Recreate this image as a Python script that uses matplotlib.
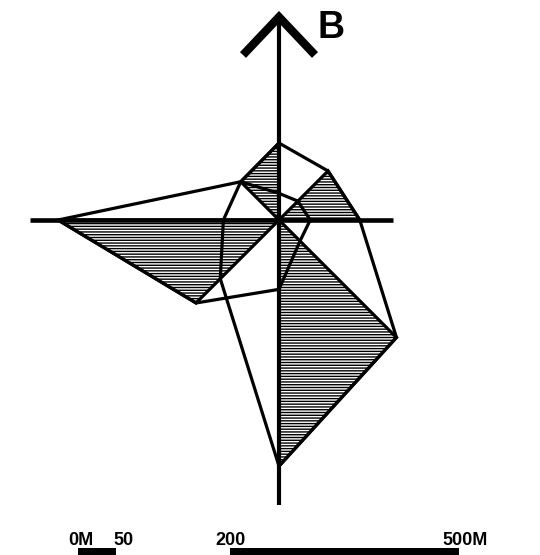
import numpy as np
import matplotlib.pyplot as plt

plt.rcParams['hatch.linewidth'] = 1.0
plt.rcParams['font.family'] = ['Liberation Sans', 'DejaVu Sans']

# compass directions and the two distance series (metres)
directions = ['N', 'NE', 'E', 'SE', 'S', 'SW', 'W', 'NW']
bearings = [0, 45, 90, 135, 180, 225, 270, 315]
series_a = [101, 91, 106, 218, 323, 109, 73, 71]
series_b = [35, 35, 41, 39, 91, 154, 290, 71]
hatched_pairs = [('NW', 'N'), ('NE', 'E'), ('SE', 'S'), ('SW', 'W')]

# scale bar
scale_ticks = [0, 50, 200, 500]
scale_labels = ['0M', '50', '200', '500M']
scale_segments = [(0, 50), (200, 500)]

north_label = 'B'

PX = 0.762  # pixels per metre


def to_xy(bearing, r):
    t = np.deg2rad(bearing)
    return r * np.sin(t), r * np.cos(t)


def m(px):
    return px / PX


fig = plt.figure(figsize=(5.4, 5.55), dpi=100)
ax = fig.add_axes([0, 0, 1, 1])
ax.set_xlim(m(-279), m(261))
ax.set_ylim(m(-335), m(220))
ax.axis('off')

# hatched sectors (outer envelope of both series)
envelope = dict(zip(directions, np.maximum(series_a, series_b)))
bear = dict(zip(directions, bearings))
for d1, d2 in hatched_pairs:
    x1, y1 = to_xy(bear[d1], envelope[d1])
    x2, y2 = to_xy(bear[d2], envelope[d2])
    ax.fill([0, x1, x2], [0, y1, y2], facecolor='none', edgecolor='black',
            hatch='------', lw=2.3, joinstyle='miter')

# the two polygons
for series in (series_a, series_b):
    xs, ys = to_xy(np.array(bearings + bearings[:1]), np.array(series + series[:1]))
    ax.plot(xs, ys, color='black', lw=2.3, solid_joinstyle='miter')

# axes cross
ax.plot([m(-249), m(114)], [0, 0], color='black', lw=3.3, solid_capstyle='butt')
tip = m(203)
ax.plot([0, 0], [m(-285), tip], color='black', lw=3.0, solid_capstyle='butt')
ax.plot([m(-36), 0, m(36)], [tip - m(38), tip, tip - m(38)], color='black',
        lw=6.0, solid_capstyle='butt', solid_joinstyle='miter')
ax.text(m(52), m(192), north_label, fontsize=27, fontweight='bold',
        ha='center', va='center')

# scale bar
x0 = m(78 - 279)
bar_top = m(-328)
for a, b in scale_segments:
    ax.fill([x0 + a, x0 + b, x0 + b, x0 + a],
            [bar_top, bar_top, bar_top - m(12), bar_top - m(12)],
            color='black', lw=0)
offsets = [3, 7, 0, 6]
for v, lab, off in zip(scale_ticks, scale_labels, offsets):
    ax.text(x0 + v + m(off), m(-325), lab, fontsize=13, fontweight='bold',
            ha='center', va='baseline')

fig.savefig('out.png', dpi=100)
